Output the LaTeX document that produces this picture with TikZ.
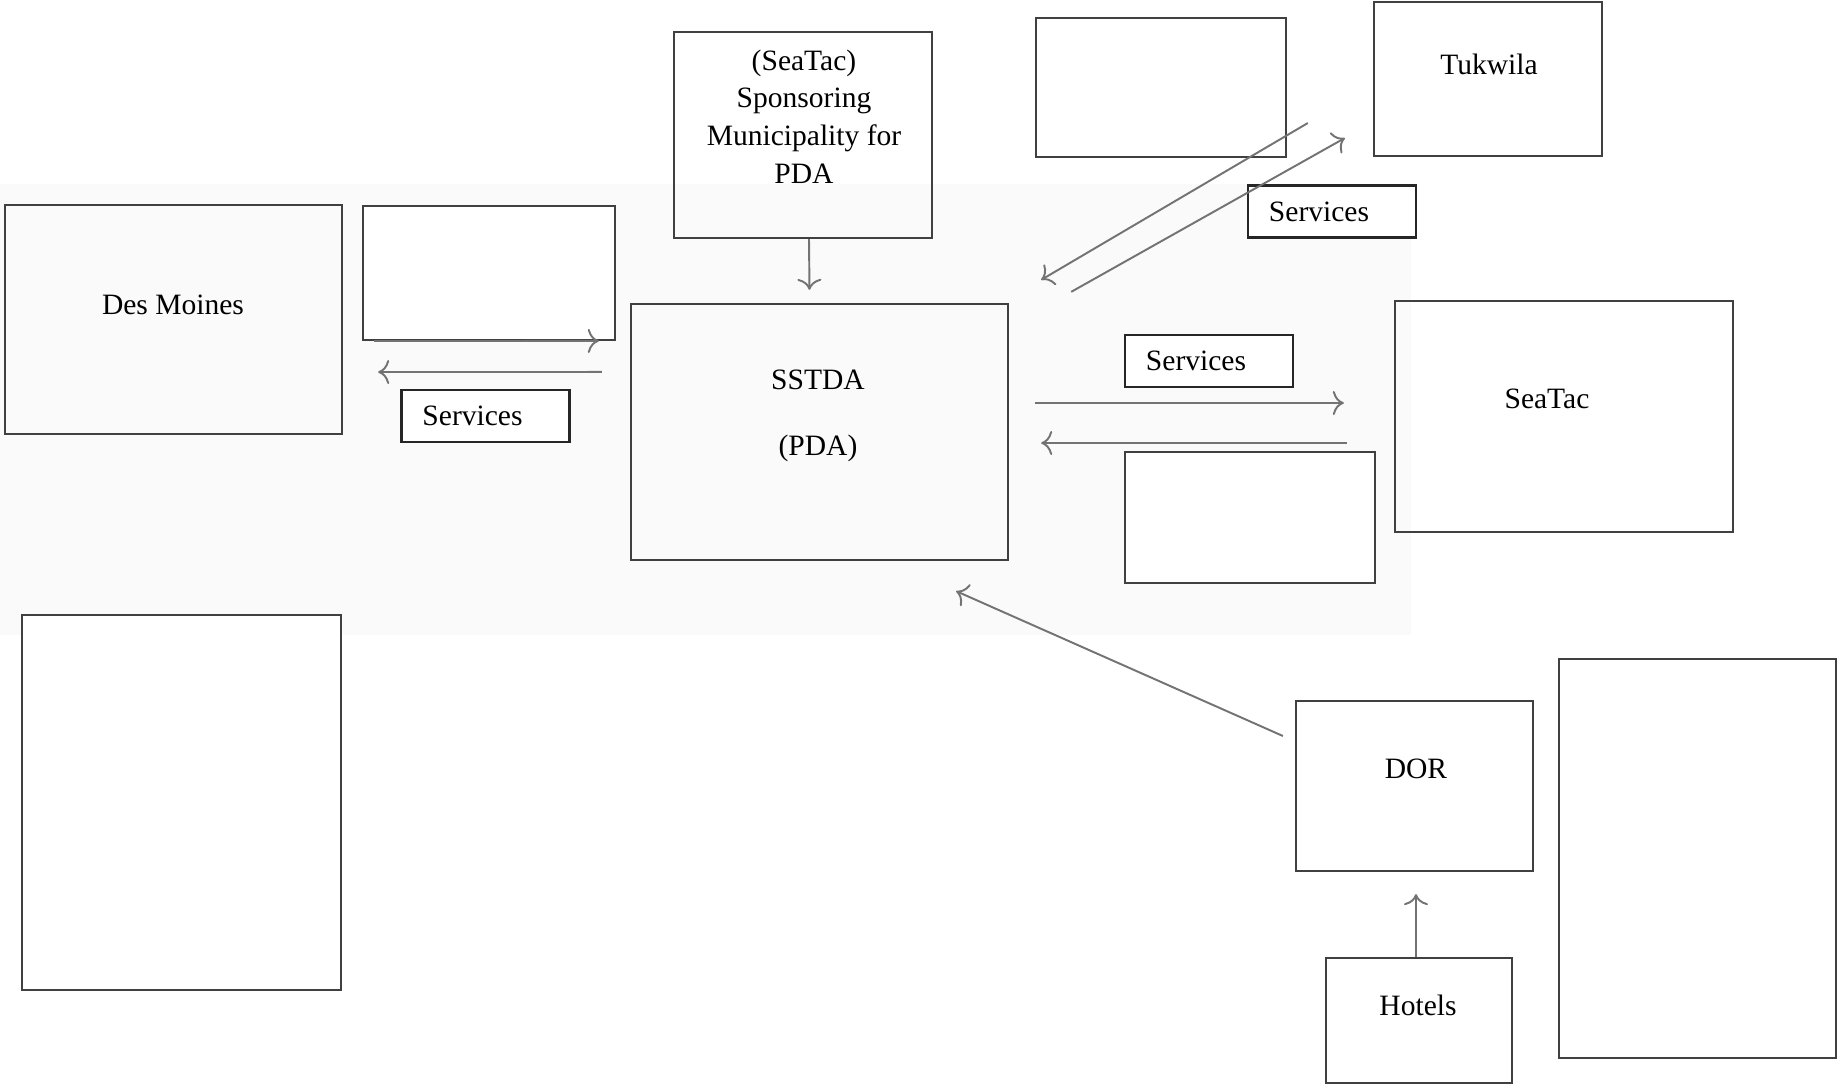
\documentclass[tikz,border=0pt]{standalone}
\usepackage{fontspec}
\setmainfont{Liberation Serif}
\usetikzlibrary{arrows.meta}

\tikzset{
  box/.style={draw=black!75, line width=0.6pt, inner sep=0pt},
  blankbox/.style={box, fill=white},
  lbl/.style={font=\fontsize{8.4}{10.7}\selectfont, inner sep=0pt, align=center},
  svcbox/.style={draw=black!85, fill=white, line width=0.6pt, minimum width=1.68cm, minimum height=0.52cm,
    text width=1.26cm, inner xsep=0.21cm, inner ysep=0pt, align=left,
    font=\fontsize{8.4}{10.7}\selectfont},
  arr/.style={draw=black!55, line width=0.55pt, -{To[length=1.1mm,width=2.4mm]}}
}

\begin{document}
\begin{tikzpicture}[x=0.01cm, y=-0.01cm] %%SSTDA chart
\useasboundingbox (0,0) rectangle (1838,1085);
\fill[black!2] (0,184) rectangle (1411,635);

%% boxes
\node[box, minimum width=2.58cm, minimum height=2.06cm] (spons) at (803,135) {};
\node[blankbox, minimum width=2.50cm, minimum height=1.39cm] (blanktop) at (1161,87.5) {};
\node[box, minimum width=2.28cm, minimum height=1.54cm] (tuk) at (1488,79) {};
\node[box, minimum width=3.37cm, minimum height=2.29cm] (dm) at (173.5,319.5) {};
\node[blankbox, minimum width=2.52cm, minimum height=1.34cm] (blankdm) at (489,273) {};
\node[box, minimum width=3.77cm, minimum height=2.56cm] (sstda) at (819.5,432) {};
\node[box, minimum width=3.38cm, minimum height=2.31cm] (seatac) at (1564,416.5) {};
\node[blankbox, minimum width=2.50cm, minimum height=1.31cm] (blankst) at (1250,517.5) {};
\node[blankbox, minimum width=3.19cm, minimum height=3.75cm] (blankleft) at (181.5,802.5) {};
\node[box, minimum width=2.37cm, minimum height=1.70cm] (dor) at (1414.5,786) {};
\node[box, minimum width=1.86cm, minimum height=1.25cm] (hotels) at (1419,1020.5) {};
\node[blankbox, minimum width=2.77cm, minimum height=3.99cm] (blankright) at (1697.5,858.5) {};

%% labels
\node[lbl] (sponstext) at (804,116.5) {(SeaTac)\\Sponsoring\\Municipality for\\PDA};
\node[lbl] (tuktext) at (1489,64) {Tukwila};
\node[lbl] (dmtext) at (173,305) {Des Moines};
\node[lbl] (sstdatext) at (818,416) {SSTDA\\[0.28cm](PDA)};
\node[lbl] (seatactext) at (1547,399) {SeaTac};
\node[lbl] (dortext) at (1416,769) {DOR};
\node[lbl] (hotelstext) at (1418,1005) {Hotels};

\node[svcbox] (svcdm) at (485.5,416) {Services};
\node[svcbox] (svctuk) at (1332,211.5) {Services};
\node[svcbox] (svcst) at (1209,361) {Services};

%% connectors
\draw[arr] ([xshift=0.06cm]spons.south) -- ([xshift=-0.1cm,yshift=0.13cm]sstda.north);
\draw[arr] ([xshift=0.31cm,yshift=-0.215cm]dm.east) -- ([xshift=-0.31cm,yshift=0.91cm]sstda.west);
\draw[arr] ([xshift=-0.28cm,yshift=0.60cm]sstda.west) -- ([xshift=0.35cm,yshift=-0.525cm]dm.east);
\draw[arr] ([xshift=0.62cm,yshift=0.11cm]sstda.north east) -- ([xshift=-0.28cm,yshift=-0.59cm]tuk.west);
\draw[arr] ([xshift=-0.65cm,yshift=-0.44cm]tuk.west) -- ([xshift=0.32cm,yshift=0.23cm]sstda.north east);
\draw[arr] ([xshift=0.26cm,yshift=0.29cm]sstda.east) -- ([xshift=-0.50cm,yshift=0.135cm]seatac.west);
\draw[arr] ([xshift=-0.47cm,yshift=-0.265cm]seatac.west) -- ([xshift=0.32cm,yshift=-0.11cm]sstda.east);
\draw[arr] ([xshift=-0.12cm,yshift=0.5cm]dor.west) -- ([xshift=-0.53cm,yshift=-0.30cm]sstda.south east);
\draw[arr] ([xshift=-0.03cm]hotels.north) -- ([xshift=0.015cm,yshift=-0.22cm]dor.south);
\end{tikzpicture}
\end{document}
